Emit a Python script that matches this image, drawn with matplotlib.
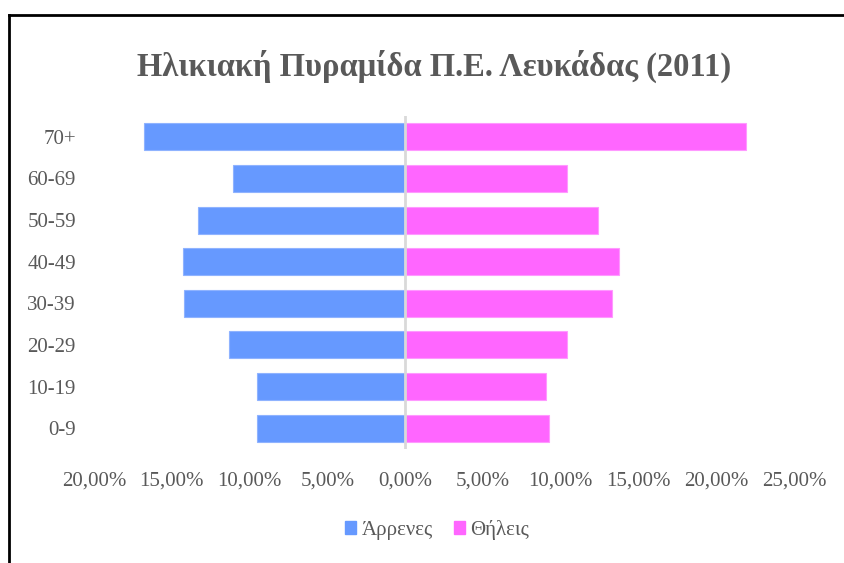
import matplotlib
matplotlib.use("Agg")
import matplotlib.pyplot as plt
from matplotlib.ticker import FuncFormatter, MultipleLocator
from matplotlib.lines import Line2D
from matplotlib.patches import Patch
import numpy as np

# ηλικιακές ομάδες και ποσοστά (%) ανά φύλο
ages = ["0-9", "10-19", "20-29", "30-39", "40-49", "50-59", "60-69", "70+"]
arrenes = [9.5, 9.5, 11.35, 14.2, 14.3, 13.3, 11.05, 16.8]
theleis = [9.27, 9.06, 10.4, 13.3, 13.75, 12.4, 10.4, 21.9]

title = "Ηλικιακή Πυραμίδα Π.Ε. Λευκάδας (2011)"
labels = ["Άρρενες", "Θήλεις"]

blue = "#6699ff"
pink = "#ff66ff"
grey_txt = "#595959"

plt.rcParams['font.family'] = ['Liberation Serif', 'DejaVu Serif']

fig = plt.figure(figsize=(8.44, 5.63), dpi=100)
ax = fig.add_axes([94 / 844, 1 - 449 / 563, 700 / 844, 333 / 563])

y = np.arange(len(ages))
ax.barh(y, -np.array(arrenes), height=0.65, color=blue, edgecolor="#8fb3ff", linewidth=0.8)
ax.barh(y, theleis, height=0.65, color=pink, edgecolor="#ff99ff", linewidth=0.8)
ax.axvline(0, color="#d9d9d9", lw=2, zorder=3)

ax.set_xlim(-20, 25)
ax.set_ylim(-0.5, len(ages) - 0.5)
ax.xaxis.set_major_locator(MultipleLocator(5))
ax.xaxis.set_major_formatter(FuncFormatter(lambda v, p: f"{abs(v):.2f}%".replace(".", ",")))
ax.set_yticks(y)
ax.set_yticklabels(ages)

for s in ax.spines.values():
    s.set_visible(False)
ax.tick_params(axis="x", length=0, pad=16, labelsize=15, labelcolor=grey_txt)
ax.tick_params(axis="y", length=0, pad=13, labelsize=15, labelcolor=grey_txt)

fig.text(434 / 844, 1 - 66 / 563, title, ha="center", va="center",
         fontsize=23.5, fontweight="bold", color=grey_txt)

handles = [Patch(color=blue), Patch(color=pink)]
leg = fig.legend(handles, labels, loc="center", bbox_to_anchor=(437 / 844, 1 - 530 / 563),
                 ncol=2, frameon=False, fontsize=15, handlelength=0.55, handleheight=0.55,
                 handletextpad=0.25, columnspacing=1.0)
for t in leg.get_texts():
    t.set_color(grey_txt)

# πλαίσιο (μόνο πάνω και αριστερά φαίνονται)
fig.add_artist(Line2D([9 / 844, 9 / 844], [0, 1 - 15 / 563], color="black", lw=2))
fig.add_artist(Line2D([9 / 844, 1], [1 - 15 / 563, 1 - 15 / 563], color="black", lw=2))

fig.savefig("out.png", dpi=100)
